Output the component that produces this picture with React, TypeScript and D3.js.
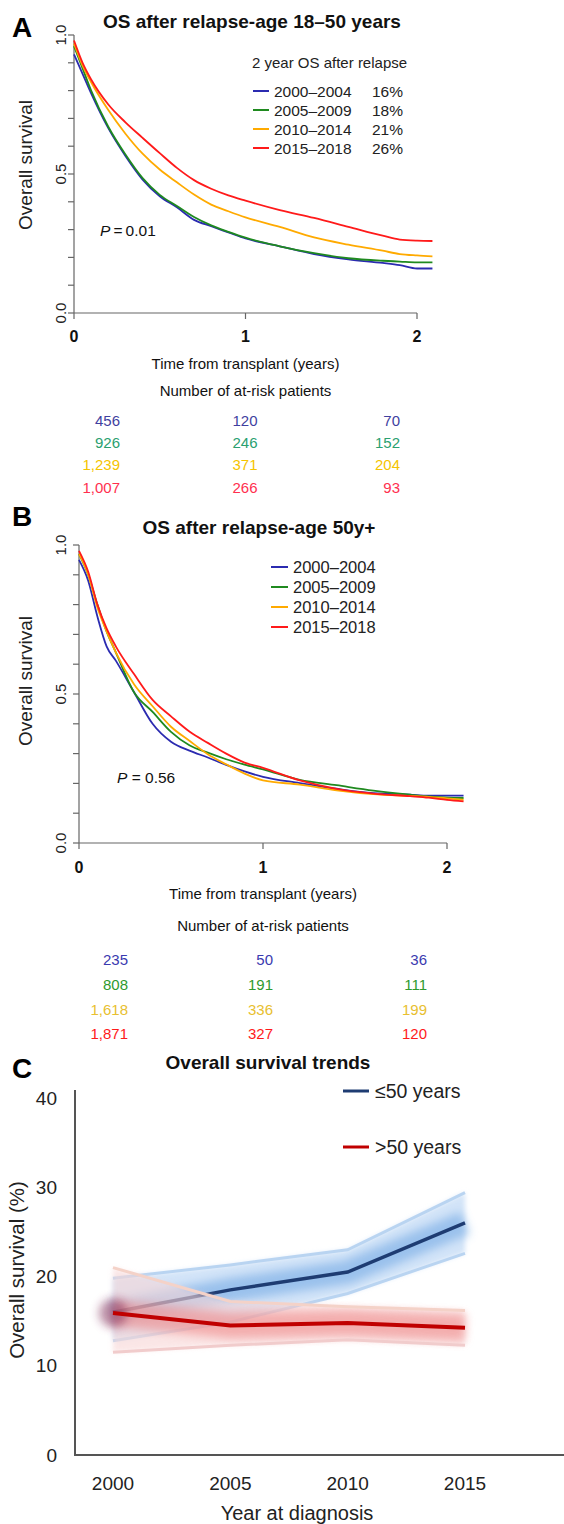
import React from 'react';
import * as d3 from 'd3';

// ---- panel A / B : Kaplan-Meier style curves ----
const cohorts = ['2000–2004', '2005–2009', '2010–2014', '2015–2018'];
const cohortColors = ['#2b2bb0', '#1f8a1f', '#ffaa00', '#ff1a1a'];
const twoYearOS = ['16%', '18%', '21%', '26%'];

const timesA = [0, 0.05, 0.1, 0.2, 0.3, 0.4, 0.5, 0.6, 0.7, 0.8, 0.9, 1.0, 1.2, 1.4, 1.6, 1.8, 1.9, 2.0, 2.09];
const survA_2000 = [0.93, 0.86, 0.79, 0.665, 0.565, 0.48, 0.42, 0.38, 0.335, 0.312, 0.29, 0.268, 0.24, 0.212, 0.193, 0.18, 0.172, 0.16, 0.16];
const survA_2005 = [0.96, 0.88, 0.8, 0.67, 0.57, 0.485, 0.425, 0.385, 0.345, 0.315, 0.292, 0.271, 0.24, 0.215, 0.197, 0.188, 0.185, 0.182, 0.182];
const survA_2010 = [0.97, 0.89, 0.83, 0.73, 0.645, 0.573, 0.516, 0.47, 0.426, 0.39, 0.366, 0.344, 0.31, 0.272, 0.246, 0.224, 0.212, 0.207, 0.204];
const survA_2015 = [0.98, 0.9, 0.84, 0.75, 0.686, 0.63, 0.575, 0.522, 0.478, 0.447, 0.423, 0.404, 0.37, 0.342, 0.31, 0.278, 0.264, 0.26, 0.259];

const timesB = [0, 0.05, 0.1, 0.15, 0.2, 0.3, 0.4, 0.5, 0.6, 0.7, 0.8, 0.9, 1.0, 1.2, 1.4, 1.6, 1.8, 1.9, 2.0, 2.09];
const survB_2000 = [0.95, 0.88, 0.76, 0.66, 0.612, 0.505, 0.4, 0.34, 0.31, 0.287, 0.262, 0.24, 0.222, 0.201, 0.182, 0.167, 0.162, 0.159, 0.159, 0.159];
const survB_2005 = [0.97, 0.9, 0.8, 0.71, 0.64, 0.505, 0.44, 0.373, 0.328, 0.303, 0.281, 0.263, 0.247, 0.212, 0.194, 0.176, 0.162, 0.156, 0.152, 0.151];
const survB_2010 = [0.97, 0.9, 0.79, 0.71, 0.64, 0.532, 0.459, 0.39, 0.343, 0.298, 0.264, 0.233, 0.21, 0.196, 0.177, 0.164, 0.158, 0.155, 0.15, 0.145];
const survB_2015 = [0.98, 0.91, 0.8, 0.72, 0.66, 0.566, 0.48, 0.425, 0.374, 0.336, 0.3, 0.27, 0.252, 0.21, 0.182, 0.166, 0.157, 0.152, 0.145, 0.14];

const riskTimes = [0, 1, 2];
const riskA = [['456', '120', '70'], ['926', '246', '152'], ['1,239', '371', '204'], ['1,007', '266', '93']];
const riskB = [['235', '50', '36'], ['808', '191', '111'], ['1,618', '336', '199'], ['1,871', '327', '120']];
const riskColorsA = ['#3f3f9f', '#2aa070', '#f5c400', '#ff2f4f'];
const riskColorsB = ['#3a3ab0', '#2e9a2e', '#e8c030', '#ff1a1a'];

// ---- panel C : trends ----
const years = [2000, 2005, 2010, 2015];
const young = [16.0, 18.5, 20.5, 26.0];
const youngHi = [19.8, 21.3, 23.0, 29.4];
const youngLo = [12.8, 14.9, 18.1, 22.6];
const old = [15.9, 14.5, 14.8, 14.25];
const oldHi = [21.0, 17.2, 16.6, 16.2];
const oldLo = [11.5, 12.3, 12.9, 12.3];
const yTicksC = [0, 10, 20, 30, 40];

const FONT = 'Liberation Sans, Arial, Helvetica, sans-serif';

type Scale = d3.ScaleLinear<number, number>;

const Curves = ({ x, y, times, series }: { x: Scale; y: Scale; times: number[]; series: number[][] }) => {
  const line = d3
    .line<number>()
    .x((_, i) => x(times[i]))
    .y((d) => y(d))
    .curve(d3.curveMonotoneX);
  return (
    <g>
      {series.map((s, i) => (
        <path key={i} d={line(s) || ''} fill="none" stroke={cohortColors[i]} strokeWidth={1.8} />
      ))}
    </g>
  );
};

const KMAxes = ({ x, y, labelX }: { x: Scale; y: Scale; labelX: number }) => {
  const minor = d3.range(0, 1.0001, 0.1);
  const x0 = x(0);
  return (
    <g stroke="#666" strokeWidth={1.2}>
      <line x1={x0} x2={x0} y1={y(1)} y2={y(0)} />
      {minor.map((v) => (
        <line key={v} x1={x0 - 6} x2={x0} y1={y(v)} y2={y(v)} />
      ))}
      <line x1={x0} x2={x(2)} y1={y(0)} y2={y(0)} />
      {riskTimes.map((t) => (
        <line key={t} x1={x(t)} x2={x(t)} y1={y(0)} y2={y(0) + 6} />
      ))}
      {[0, 0.5, 1].map((v) => (
        <text
          key={'l' + v}
          stroke="none"
          fill="#222"
          fontSize={15}
          textAnchor="middle"
          dominantBaseline="central"
          transform={`translate(${labelX},${y(v)}) rotate(-90)`}
        >
          {v.toFixed(1)}
        </text>
      ))}
    </g>
  );
};

const RiskTable = ({
  x,
  rows,
  colors,
  rowY,
  tickY,
  titleY,
  numY,
  colShift,
}: {
  x: Scale;
  rows: string[][];
  colors: string[];
  rowY: number[];
  tickY: number;
  titleY: number;
  numY: number;
  colShift: number[];
}) => {
  const cx = (x(0) + x(2)) / 2;
  return (
    <g fontFamily={FONT}>
      {riskTimes.map((t) => (
        <text key={t} x={x(t)} y={tickY} fontSize={16} fontWeight="bold" fill="#111" textAnchor="middle" dominantBaseline="central">
          {t}
        </text>
      ))}
      <text x={cx} y={titleY} fontSize={15} fill="#111" textAnchor="middle" dominantBaseline="central">
        Time from transplant (years)
      </text>
      <text x={cx} y={numY} fontSize={15} fill="#111" textAnchor="middle" dominantBaseline="central">
        Number of at-risk patients
      </text>
      {rows.map((r, i) =>
        r.map((v, j) => (
          <text
            key={i + '-' + j}
            x={x(riskTimes[j]) + colShift[j]}
            y={rowY[i]}
            fontSize={15}
            fill={colors[i]}
            textAnchor="end"
            dominantBaseline="central"
          >
            {v}
          </text>
        ))
      )}
    </g>
  );
};

const App = () => {
  // panel A
  const xA = d3.scaleLinear().domain([0, 2]).range([74, 417]);
  const yA = d3.scaleLinear().domain([0, 1]).range([313, 35]);
  // panel B
  const xB = d3.scaleLinear().domain([0, 2]).range([79, 447]);
  const yB = d3.scaleLinear().domain([0, 1]).range([843, 545]);
  // panel C
  const xC = d3.scaleLinear().domain([2000, 2015]).range([113, 465]);
  const yC = d3.scaleLinear().domain([0, 40]).range([1455, 1098]);

  const lineC = (vals: number[]) =>
    d3
      .line<number>()
      .x((_, i) => xC(years[i]))
      .y((d) => yC(d))(vals) || '';
  const areaC = (lo: number[], hi: number[]) =>
    d3
      .area<number>()
      .x((_, i) => xC(years[i]))
      .y0((_, i) => yC(lo[i]))
      .y1((d) => yC(d))(hi) || '';

  return (
    <svg
      width={564}
      height={1524}
      style={{ position: 'absolute', left: 0, top: 0, background: 'white' }}
      fontFamily={FONT}
    >
      <defs>
        <filter id="blurS" filterUnits="userSpaceOnUse" x={0} y={0} width={564} height={1524}>
          <feGaussianBlur stdDeviation={2.5} />
        </filter>
        <filter id="blurL" filterUnits="userSpaceOnUse" x={0} y={0} width={564} height={1524}>
          <feGaussianBlur stdDeviation={5} />
        </filter>
      </defs>

      {/* ---------------- Panel A ---------------- */}
      <text x={12} y={27} fontSize={28} fontWeight="bold" dominantBaseline="central">A</text>
      <text x={252} y={21} fontSize={19} fontWeight="bold" fill="#111" textAnchor="middle" dominantBaseline="central">
        OS after relapse-age 18–50 years
      </text>
      <text transform="translate(25,165) rotate(-90)" fontSize={19} fill="#222" textAnchor="middle" dominantBaseline="central">
        Overall survival
      </text>
      <KMAxes x={xA} y={yA} labelX={60} />
      <Curves x={xA} y={yA} times={timesA} series={[survA_2000, survA_2005, survA_2010, survA_2015]} />
      <text x={252} y={62} fontSize={15} fill="#222" dominantBaseline="central">2 year OS after relapse</text>
      {cohorts.map((c, i) => (
        <g key={c}>
          <line x1={253} x2={269} y1={91 + i * 19} y2={91 + i * 19} stroke={cohortColors[i]} strokeWidth={2} />
          <text x={274} y={91 + i * 19} fontSize={15.5} fill="#222" dominantBaseline="central">{c}</text>
          <text x={372} y={91 + i * 19} fontSize={15.5} fill="#222" dominantBaseline="central">{twoYearOS[i]}</text>
        </g>
      ))}
      <text x={100} y={230} fontSize={15.5} fill="#111" dominantBaseline="central">
        <tspan fontStyle="italic">P</tspan>
        <tspan>{'\u2009=\u20090.01'}</tspan>
      </text>
      <RiskTable
        x={xA}
        rows={riskA}
        colors={riskColorsA}
        rowY={[420, 442, 464, 487]}
        tickY={336}
        titleY={363}
        numY={390}
        colShift={[46, 12, -17]}
      />

      {/* ---------------- Panel B ---------------- */}
      <text x={12} y={516} fontSize={28} fontWeight="bold" dominantBaseline="central">B</text>
      <text x={259} y={527} fontSize={19} fontWeight="bold" fill="#111" textAnchor="middle" dominantBaseline="central">
        OS after relapse-age 50y+
      </text>
      <text transform="translate(25,681) rotate(-90)" fontSize={19} fill="#222" textAnchor="middle" dominantBaseline="central">
        Overall survival
      </text>
      <KMAxes x={xB} y={yB} labelX={60} />
      <Curves x={xB} y={yB} times={timesB} series={[survB_2000, survB_2005, survB_2010, survB_2015]} />
      {cohorts.map((c, i) => (
        <g key={c}>
          <line x1={271} x2={288} y1={567 + i * 20} y2={567 + i * 20} stroke={cohortColors[i]} strokeWidth={2} />
          <text x={293} y={567 + i * 20} fontSize={16.5} fill="#222" dominantBaseline="central">{c}</text>
        </g>
      ))}
      <text x={117} y={777} fontSize={15.5} fill="#111" dominantBaseline="central">
        <tspan fontStyle="italic">P</tspan>
        <tspan>{' = 0.56'}</tspan>
      </text>
      <RiskTable
        x={xB}
        rows={riskB}
        colors={riskColorsB}
        rowY={[959, 984, 1009, 1033]}
        tickY={867}
        titleY={893}
        numY={925}
        colShift={[49, 10, -20]}
      />

      {/* ---------------- Panel C ---------------- */}
      <text x={12} y={1068} fontSize={28} fontWeight="bold" dominantBaseline="central">C</text>
      <text x={268} y={1062} fontSize={19} fontWeight="bold" fill="#111" textAnchor="middle" dominantBaseline="central">
        Overall survival trends
      </text>
      <text transform="translate(16,1270) rotate(-90)" fontSize={20.5} fill="#222" textAnchor="middle" dominantBaseline="central">
        Overall survival (%)
      </text>
      {yTicksC.map((t) => (
        <text key={t} x={57} y={yC(t)} fontSize={19} fill="#222" textAnchor="end" dominantBaseline="central">
          {t}
        </text>
      ))}
      {years.map((yr) => (
        <text key={yr} x={xC(yr)} y={1483} fontSize={19} fill="#222" textAnchor="middle" dominantBaseline="central">
          {yr}
        </text>
      ))}
      <text x={297} y={1513} fontSize={20} fill="#222" textAnchor="middle" dominantBaseline="central">
        Year at diagnosis
      </text>

      {/* ≤50 years with glow */}
      <path d={areaC(youngLo, youngHi)} fill="#d3e4f8" filter="url(#blurS)" />
      <path d={lineC(young)} fill="none" stroke="#86b5e8" strokeWidth={24} opacity={0.75} filter="url(#blurL)" />
      <path d={lineC(youngHi)} fill="none" stroke="#b9d4f1" strokeWidth={3} />
      <path d={lineC(youngLo)} fill="none" stroke="#b9d4f1" strokeWidth={3} />
      <path d={lineC(young)} fill="none" stroke="#1e3c72" strokeWidth={3.5} />

      {/* >50 years with glow */}
      <path d={areaC(oldLo, oldHi)} fill="#f8d6d6" opacity={0.6} filter="url(#blurS)" />
      <path d={lineC(old)} fill="none" stroke="#ee8080" strokeWidth={26} opacity={0.55} filter="url(#blurL)" />
      <path d={lineC(oldHi)} fill="none" stroke="#f4d2c8" strokeWidth={3} />
      <path d={lineC(oldLo)} fill="none" stroke="#f1cccc" strokeWidth={3} />
      <circle cx={xC(years[0])} cy={yC(old[0])} r={14} fill="#7a2050" opacity={0.5} filter="url(#blurL)" />
      <path d={lineC(old)} fill="none" stroke="#c00000" strokeWidth={4} />

      {/* axes C */}
      <line x1={75} x2={75} y1={1090} y2={1456} stroke="#555" strokeWidth={2} />
      <line x1={74} x2={564} y1={1455} y2={1455} stroke="#555" strokeWidth={2} />

      {/* legend C */}
      <line x1={343} x2={369} y1={1091} y2={1091} stroke="#1e3c72" strokeWidth={3} />
      <text x={375} y={1091} fontSize={19.5} fill="#222" dominantBaseline="central">≤50 years</text>
      <line x1={343} x2={369} y1={1147} y2={1147} stroke="#c00000" strokeWidth={3} />
      <text x={375} y={1147} fontSize={19.5} fill="#222" dominantBaseline="central">&gt;50 years</text>
    </svg>
  );
};

export default App;
